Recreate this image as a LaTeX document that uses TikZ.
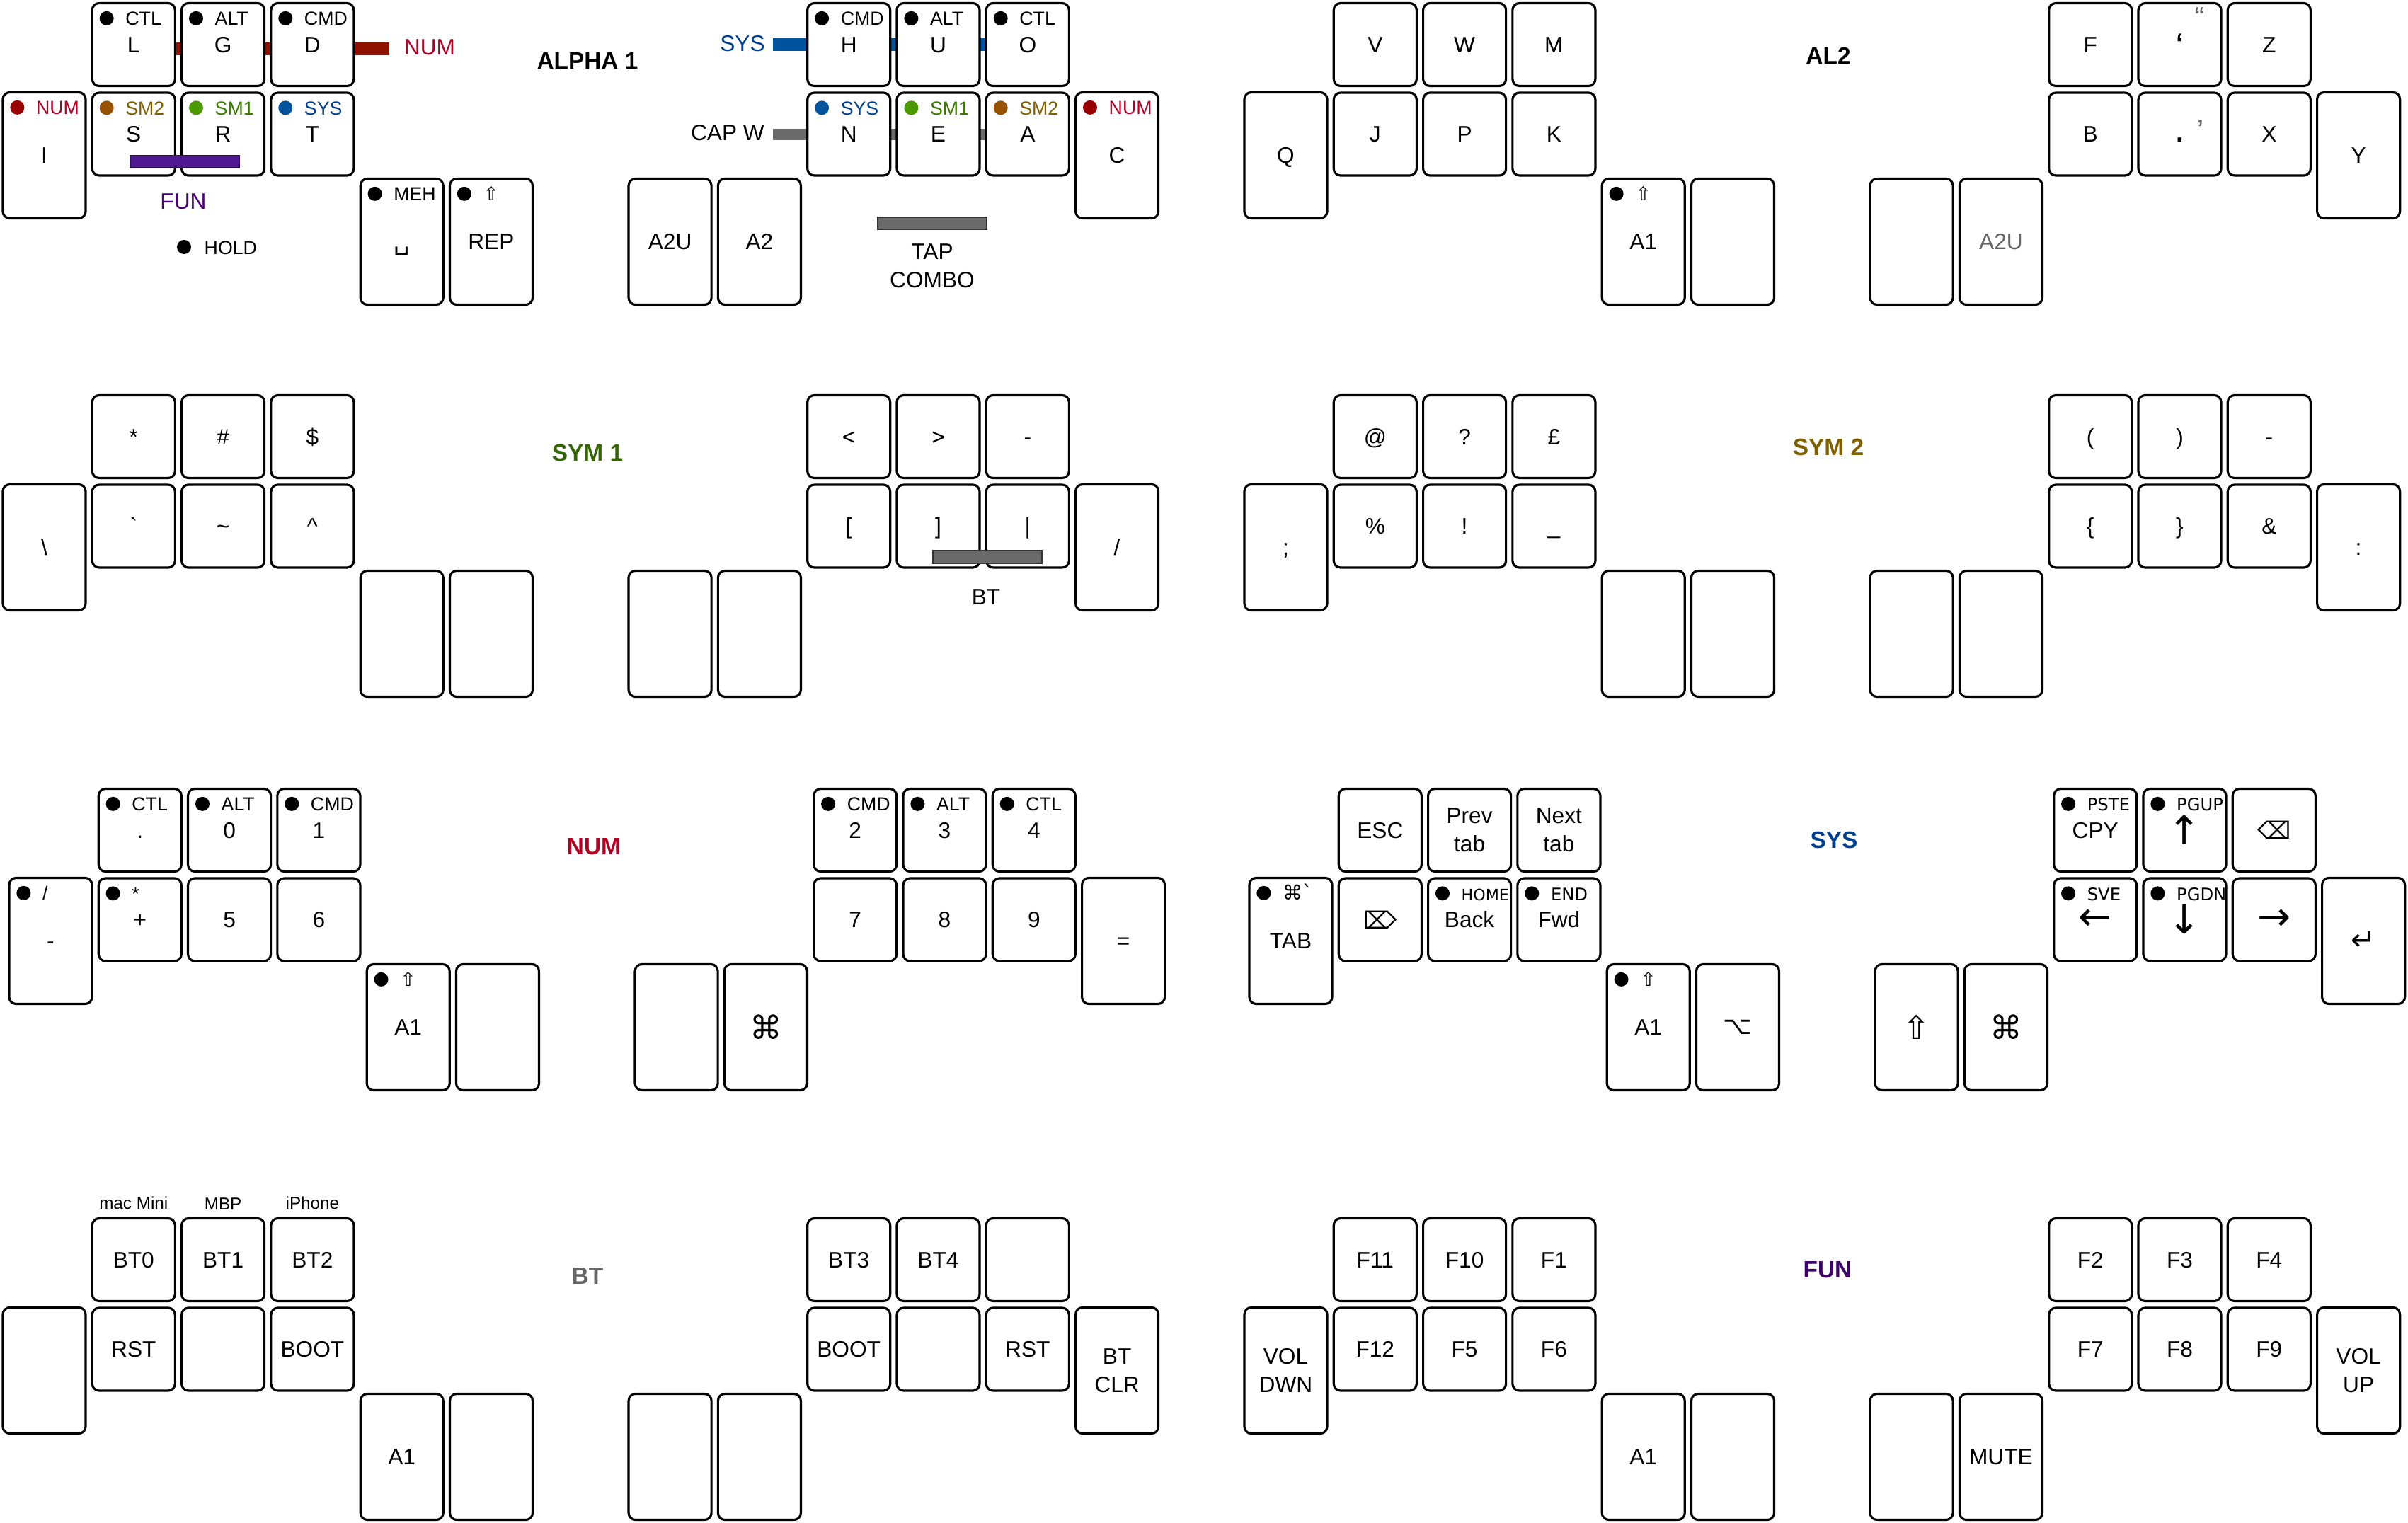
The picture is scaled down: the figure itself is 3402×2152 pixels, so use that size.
\documentclass[tikz,border=0pt]{standalone}
\usepackage{fontspec}
\setmainfont{Liberation Sans}
\newfontfamily\keysym{DejaVu Sans}
\usetikzlibrary{positioning,calc}

\pgfdeclarelayer{background}
\pgfsetlayers{background,main}

\definecolor{numtxt}{HTML}{B20024}
\definecolor{numdot}{HTML}{990000}
\definecolor{numbar}{HTML}{8F1100}
\definecolor{sm2txt}{HTML}{7F6000}
\definecolor{sm2dot}{HTML}{995200}
\definecolor{sm1txt}{HTML}{3C7A00}
\definecolor{sm1dot}{HTML}{4D9900}
\definecolor{systxt}{HTML}{003F8F}
\definecolor{sysdot}{HTML}{00549E}
\definecolor{funtxt}{HTML}{4C0080}
\definecolor{funbar}{HTML}{4F1A91}
\definecolor{combogrey}{HTML}{6A6A6A}
\definecolor{greytxt}{HTML}{666666}
\definecolor{sym1title}{HTML}{336600}
\definecolor{sym2title}{HTML}{7F6000}
\definecolor{funtitle}{HTML}{3D0066}

\tikzset{
  keybox/.style={draw, line width=0.9pt, rounded corners=2.8pt, fill=white,
    inner sep=0pt, minimum width=1.17cm, minimum height=1.17cm,
    font=\fontsize{9}{11.3}\selectfont},
  key/.style={keybox, text height=6.5pt, text depth=0pt},
  tall/.style={key, minimum height=1.78cm},
  keyml/.style={keybox, align=center},
  tallml/.style={keybox, minimum height=1.78cm, align=center},
  sym/.style={font=\keysym\fontsize{#1}{#1}\selectfont, text height=, text depth=},
  holddot/.style={circle, inner sep=0pt, minimum size=0.2cm},
  holdtxt/.style={anchor=base west, inner sep=0pt, font=\fontsize{7.6}{9}\selectfont},
  holdsys/.style={holdtxt, font=\keysym\fontsize{6.9}{8}\selectfont},
  combo/.style={line width=0.18cm},
  combobox/.style={draw=black!80, line width=0.4pt},
  combolbl/.style={inner sep=0pt, font=\fontsize{9}{11.3}\selectfont},
  title/.style={inner sep=0pt, font=\bfseries\fontsize{9.5}{11}\selectfont},
  devlbl/.style={inner sep=0pt, font=\fontsize{6.9}{8}\selectfont},
  altlbl/.style={inner sep=0pt, text=greytxt, font=\bfseries\fontsize{9}{9}\selectfont}
}

% hold label: dot + text in the top left of a key
\newcommand{\hold}[5][holdtxt]{%
  \node[holddot, fill=#3] (#2-dot) at ($(#2.north west)+(22,23)$) {};
  \node[#1, text=#4] (#2-hold) at ($(#2.north west)+(48,33)$) {#5};}

\begin{document}
\begin{tikzpicture}[x=0.01cm, y=-0.01cm]
\useasboundingbox (0,0) rectangle (3402,2152);

%ALPHA 1
\begin{scope}
  \node[tall] (a1-o) at (62.5,219.5) {I};
  \foreach \nm/\x/\lab in {u1/188.8/L,u2/315.1/G,u3/441.4/D,u4/1199.2/H,u5/1325.5/U,u6/1451.8/O}
    \node[key] (a1-\nm) at (\x,63) {\lab};
  \foreach \nm/\x/\lab in {l1/188.8/S,l2/315.1/R,l3/441.4/T,l4/1199.2/N,l5/1325.5/E,l6/1451.8/A}
    \node[key] (a1-\nm) at (\x,189.5) {\lab};
  \node[tall] (a1-o2) at (1578.1,219.5) {C};
  \node[tall, font=\keysym\fontsize{10}{10}\selectfont] (a1-t1) at (567.7,341.5) {␣};
  \node[tall] (a1-t2) at (694,341.5) {REP};
  \node[tall] (a1-t3) at (946.6,341.5) {A2U};
  \node[tall] (a1-t4) at (1072.9,341.5) {A2};

  \hold{a1-o}{numdot}{numtxt}{NUM}
  \foreach \nm/\lab in {u1/CTL,u2/ALT,u3/CMD,u4/CMD,u5/ALT,u6/CTL}
    {\hold{a1-\nm}{black}{black}{\lab}}
  \hold{a1-l1}{sm2dot}{sm2txt}{SM2}
  \hold{a1-l2}{sm1dot}{sm1txt}{SM1}
  \hold{a1-l3}{sysdot}{systxt}{SYS}
  \hold{a1-l4}{sysdot}{systxt}{SYS}
  \hold{a1-l5}{sm1dot}{sm1txt}{SM1}
  \hold{a1-l6}{sm2dot}{sm2txt}{SM2}
  \hold{a1-o2}{numdot}{numtxt}{NUM}
  \hold{a1-t1}{black}{black}{MEH}
  \hold{a1-t2}{black}{black}{\keysym ⇧}

  %combos
  \coordinate (a1-numend) at (550,69);
  \coordinate (a1-sysend) at (1092,63);
  \coordinate (a1-capend) at (1092,190);
  \begin{pgfonlayer}{background}
    \draw[combo, draw=numbar] (a1-u1.east |- a1-numend) -- (a1-numend);
    \draw[combo, draw=sysdot] (a1-sysend) -- (a1-u6.west |- a1-sysend);
    \draw[combo, draw=combogrey, line width=0.16cm] (a1-capend) -- (a1-l6.west |- a1-capend);
  \end{pgfonlayer}
  \node[combolbl, text=numtxt] (a1-numlbl) at (607,67) {NUM};
  \node[combolbl, text=systxt] (a1-syslbl) at (1049,61.5) {SYS};
  \node[combolbl] (a1-caplbl) at (1028,188) {CAP W};

  \coordinate (a1-funa) at (184,220);
  \coordinate (a1-funb) at (338,237);
  \filldraw[fill=funbar, draw=funbar!60!black, line width=0.4pt] (a1-funa) rectangle (a1-funb);
  \node[combolbl, text=funtxt] (a1-funlbl) at (259,285) {FUN};

  \coordinate (a1-tapa) at (1240,307);
  \coordinate (a1-tapb) at (1394,324);
  \filldraw[combobox, fill=combogrey] (a1-tapa) rectangle (a1-tapb);
  \node[combolbl, align=center] (a1-taplbl) at (1317,376) {TAP\\COMBO};

  %legend
  \node[holddot, fill=black] (a1-legdot) at (260,349) {};
  \node[holdtxt] (a1-leglbl) at (288,360) {HOLD};

  \node[title] (a1-title) at (830,86) {ALPHA 1};
\end{scope}

%AL2
\begin{scope}[shift={(1754,0)}]
  \node[tall] (a2-o) at (62.5,219.5) {Q};
  \foreach \nm/\x/\lab in {u1/188.8/V,u2/315.1/W,u3/441.4/M,u4/1199.2/F,u6/1451.8/Z}
    \node[key] (a2-\nm) at (\x,63) {\lab};
  \node[key, font=\bfseries\fontsize{11}{11}\selectfont] (a2-u5) at (1325.5,63) {‘};
  \foreach \nm/\x/\lab in {l1/188.8/J,l2/315.1/P,l3/441.4/K,l4/1199.2/B,l6/1451.8/X}
    \node[key] (a2-\nm) at (\x,189.5) {\lab};
  \node[key, font=\bfseries\fontsize{11}{11}\selectfont] (a2-l5) at (1325.5,189.5) {.};
  \node[tall] (a2-o2) at (1578.1,219.5) {Y};
  \node[tall] (a2-t1) at (567.7,341.5) {A1};
  \node[tall] (a2-t2) at (694,341.5) {};
  \node[tall] (a2-t3) at (946.6,341.5) {};
  \node[tall, text=greytxt] (a2-t4) at (1072.9,341.5) {A2U};
  \hold{a2-t1}{black}{black}{\keysym ⇧}
  \node[altlbl] (a2-u5-alt) at ($(a2-u5.north west)+(88,19)$) {“};
  \node[altlbl] (a2-l5-alt) at ($(a2-l5.north west)+(89,51)$) {’};
  \node[title] (a2-title) at (829,79) {AL2};
\end{scope}

%SYM 1
\begin{scope}[shift={(0,554)}]
  \node[tall] (s1-o) at (62.5,219.5) {\textbackslash};
  \foreach \nm/\x/\lab in {u1/188.8/*,u2/315.1/\#,u3/441.4/\$,u4/1199.2/<,u5/1325.5/>,u6/1451.8/-}
    \node[key] (s1-\nm) at (\x,63) {\lab};
  \foreach \nm/\x/\lab in {l1/188.8/\textasciigrave,l2/315.1/\textasciitilde,l3/441.4/\textasciicircum,l4/1199.2/{[},l5/1325.5/{]},l6/1451.8/|}
    \node[key] (s1-\nm) at (\x,189.5) {\lab};
  \node[tall] (s1-o2) at (1578.1,219.5) {/};
  \foreach \nm/\x in {t1/567.7,t2/694,t3/946.6,t4/1072.9}
    \node[tall] (s1-\nm) at (\x,341.5) {};
  %BT combo
  \coordinate (s1-bta) at (1318,224);
  \coordinate (s1-btb) at (1472,242);
  \filldraw[combobox, fill=combogrey] (s1-bta) rectangle (s1-btb);
  \node[combolbl] (s1-btlbl) at (1393,290) {BT};
  \node[title, text=sym1title] (s1-title) at (830,86) {SYM 1};
\end{scope}

%SYM 2
\begin{scope}[shift={(1754,554)}]
  \node[tall] (s2-o) at (62.5,219.5) {;};
  \foreach \nm/\x/\lab in {u1/188.8/@,u2/315.1/?,u3/441.4/£,u4/1199.2/{(},u5/1325.5/{)},u6/1451.8/-}
    \node[key] (s2-\nm) at (\x,63) {\lab};
  \foreach \nm/\x/\lab in {l1/188.8/\%,l2/315.1/!,l3/441.4/\_,l4/1199.2/\{,l5/1325.5/\},l6/1451.8/\&}
    \node[key] (s2-\nm) at (\x,189.5) {\lab};
  \node[tall] (s2-o2) at (1578.1,219.5) {:};
  \foreach \nm/\x in {t1/567.7,t2/694,t3/946.6,t4/1072.9}
    \node[tall] (s2-\nm) at (\x,341.5) {};
  \node[title, text=sym2title] (s2-title) at (829,78) {SYM 2};
\end{scope}

%NUM
\begin{scope}[shift={(9,1110)}]
  \node[tall] (nm-o) at (62.5,219.5) {-};
  \foreach \nm/\x/\lab in {u1/188.8/.,u2/315.1/0,u3/441.4/1,u4/1199.2/2,u5/1325.5/3,u6/1451.8/4}
    \node[key] (nm-\nm) at (\x,63) {\lab};
  \foreach \nm/\x/\lab in {l1/188.8/+,l2/315.1/5,l3/441.4/6,l4/1199.2/7,l5/1325.5/8,l6/1451.8/9}
    \node[key] (nm-\nm) at (\x,189.5) {\lab};
  \node[tall] (nm-o2) at (1578.1,219.5) {=};
  \node[tall] (nm-t1) at (567.7,341.5) {A1};
  \node[tall] (nm-t2) at (694,341.5) {};
  \node[tall] (nm-t3) at (946.6,341.5) {};
  \node[tall, sym=13] (nm-t4) at (1072.9,341.5) {⌘};
  \hold{nm-o}{black}{black}{/}
  \foreach \nm/\lab in {u1/CTL,u2/ALT,u3/CMD,u4/CMD,u5/ALT,u6/CTL}
    {\hold{nm-\nm}{black}{black}{\lab}}
  \hold{nm-l1}{black}{black}{*}
  \hold{nm-t1}{black}{black}{\keysym ⇧}
  \node[title, text=numtxt] (nm-title) at (830,86) {NUM};
\end{scope}

%SYS
\begin{scope}[shift={(1761,1110)}]
  \node[tall] (sy-o) at (62.5,219.5) {TAB};
  \node[key] (sy-u1) at (188.8,63) {ESC};
  \node[keyml] (sy-u2) at (315.1,63) {Prev\\tab};
  \node[keyml] (sy-u3) at (441.4,63) {Next\\tab};
  \node[key, sym=9.5] (sy-l1) at (188.8,189.5) {⌦};
  \node[key] (sy-l2) at (315.1,189.5) {Back};
  \node[key] (sy-l3) at (441.4,189.5) {Fwd};
  \node[tall] (sy-t1) at (567.7,341.5) {A1};
  \node[tall, sym=10] (sy-t2) at (694,341.5) {⌥};
  \node[tall, sym=13] (sy-t3) at (946.6,341.5) {⇧};
  \node[tall, sym=13] (sy-t4) at (1072.9,341.5) {⌘};
  \node[key] (sy-u4) at (1199.2,63) {CPY};
  \node[key, sym=16] (sy-u5) at (1325.5,63) {↑};
  \node[key, sym=9.5] (sy-u6) at (1451.8,63) {⌫};
  \node[key, sym=16] (sy-l4) at (1199.2,189.5) {←};
  \node[key, sym=16] (sy-l5) at (1325.5,189.5) {↓};
  \node[key, sym=16] (sy-l6) at (1451.8,189.5) {→};
  \node[tall, sym=12] (sy-o2) at (1578.1,219.5) {↵};
  \hold[holdtxt, font=\keysym\fontsize{8}{9}\selectfont]{sy-o}{black}{black}{⌘\textasciigrave}
  \hold[holdsys, font=\keysym\fontsize{6.3}{7}\selectfont]{sy-l2}{black}{black}{HOME}
  \hold[holdsys]{sy-l3}{black}{black}{END}
  \hold{sy-t1}{black}{black}{\keysym ⇧}
  \hold[holdsys]{sy-u4}{black}{black}{PSTE}
  \hold[holdsys]{sy-u5}{black}{black}{PGUP}
  \hold[holdsys]{sy-l4}{black}{black}{SVE}
  \hold[holdsys]{sy-l5}{black}{black}{PGDN}
  \node[title, text=systxt] (sy-title) at (830,77) {SYS};
\end{scope}

%BT
\begin{scope}[shift={(0,1717)}]
  \node[tall] (bt-o) at (62.5,219.5) {};
  \foreach \nm/\x/\lab in {u1/188.8/BT0,u2/315.1/BT1,u3/441.4/BT2,u4/1199.2/BT3,u5/1325.5/BT4,u6/1451.8/{}}
    \node[key] (bt-\nm) at (\x,63) {\lab};
  \foreach \nm/\x/\lab in {l1/188.8/RST,l2/315.1/{},l3/441.4/BOOT,l4/1199.2/BOOT,l5/1325.5/{},l6/1451.8/RST}
    \node[key] (bt-\nm) at (\x,189.5) {\lab};
  \node[tallml] (bt-o2) at (1578.1,219.5) {BT\\CLR};
  \node[tall] (bt-t1) at (567.7,341.5) {A1};
  \foreach \nm/\x in {t2/694,t3/946.6,t4/1072.9}
    \node[tall] (bt-\nm) at (\x,341.5) {};
  \node[devlbl, above=0.1cm of bt-u1] (bt-dev1) {mac Mini};
  \node[devlbl, above=0.1cm of bt-u2] (bt-dev2) {MBP};
  \node[devlbl, above=0.1cm of bt-u3] (bt-dev3) {iPhone};
  \node[title, text=greytxt] (bt-title) at (830,86) {BT};
\end{scope}

%FUN
\begin{scope}[shift={(1754,1717)}]
  \node[tallml] (fn-o) at (62.5,219.5) {VOL\\DWN};
  \foreach \nm/\x/\lab in {u1/188.8/F11,u2/315.1/F10,u3/441.4/F1,u4/1199.2/F2,u5/1325.5/F3,u6/1451.8/F4}
    \node[key] (fn-\nm) at (\x,63) {\lab};
  \foreach \nm/\x/\lab in {l1/188.8/F12,l2/315.1/F5,l3/441.4/F6,l4/1199.2/F7,l5/1325.5/F8,l6/1451.8/F9}
    \node[key] (fn-\nm) at (\x,189.5) {\lab};
  \node[tallml] (fn-o2) at (1578.1,219.5) {VOL\\UP};
  \node[tall] (fn-t1) at (567.7,341.5) {A1};
  \node[tall] (fn-t2) at (694,341.5) {};
  \node[tall] (fn-t3) at (946.6,341.5) {};
  \node[tall] (fn-t4) at (1072.9,341.5) {MUTE};
  \node[title, text=funtitle] (fn-title) at (828,77) {FUN};
\end{scope}
\end{tikzpicture}
\end{document}
